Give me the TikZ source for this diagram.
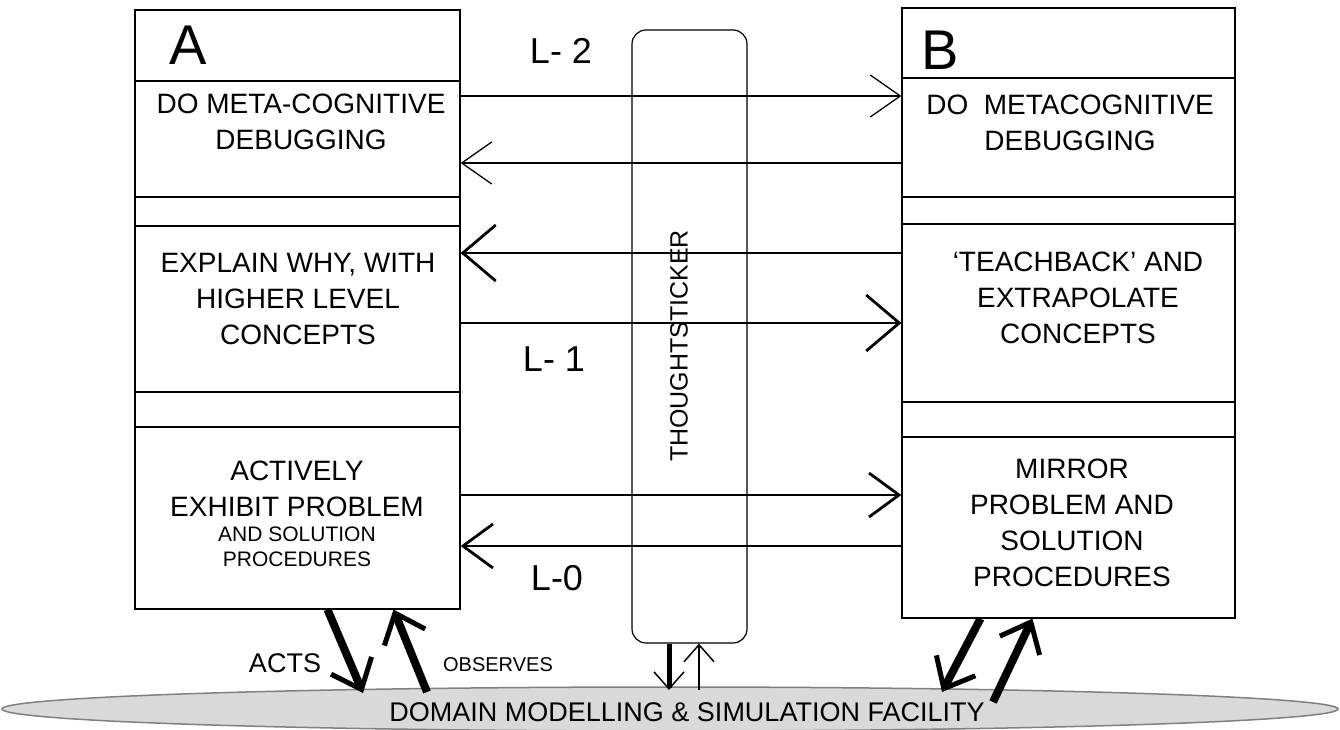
\documentclass[tikz,border=0pt]{standalone}
\usepackage{fontspec}
\setmainfont{Liberation Sans}
\usetikzlibrary{positioning,arrows.meta,calc,shapes.geometric}

\begin{document}
\begin{tikzpicture}[
  x=1pt, y=-1pt,
  col/.style={draw, line width=1.2pt, inner sep=0pt},
  divider/.style={line width=1.2pt},
  txt/.style={align=center, inner sep=0pt, font=\fontsize{28}{36}\selectfont},
  smalltxt/.style={align=center, inner sep=0pt, font=\fontsize{21}{25}\selectfont},
  letter/.style={inner sep=0pt, font=\fontsize{56}{60}\selectfont},
  lvl/.style={inner sep=0pt, font=\fontsize{36}{40}\selectfont},
  lvltwo/.style={line width=1.3pt, -{Straight Barb[length=30pt,width=42pt]}},
  lvlone/.style={line width=2.8pt, -{Straight Barb[length=33pt,width=56pt]}},
  lvlzero/.style={line width=2.8pt, -{Straight Barb[length=30pt,width=44pt]}},
  heavyarrow/.style={line width=8pt, -{Straight Barb[length=26pt,width=44pt,line width=5pt]}},
  tsdown/.style={line width=5pt, -{Straight Barb[length=17pt,width=30pt,line width=1.5pt]}},
  tsup/.style={line width=2pt, -{Straight Barb[length=17pt,width=30pt,line width=1.5pt]}},
]
\useasboundingbox (0,0) rectangle (1340,730);

% ---- domain facility (bottom ellipse) ----
\node[ellipse, draw=black!50, line width=1.5pt, fill=black!15, inner sep=0pt,
      minimum width=1336pt, minimum height=44pt] (domain) at (670,709) {};
\node[inner sep=0pt, font=\fontsize{27}{30}\selectfont] (domtext) at (687,712)
  {DOMAIN MODELLING \& SIMULATION FACILITY};

% ---- participant A ----
\node[col, minimum width=325pt, minimum height=599pt] (colA) at (297.5,309.5) {};
\foreach \yy in {81,197,226,392,427}
  \draw[divider] (colA.west |- 0,\yy) -- (colA.east |- 0,\yy);
\node[letter] (letA) at (188,45) {A};
\node[txt] (metaA) at (301,122) {DO META-COGNITIVE\\DEBUGGING};
\node[txt] (explainA) at (298,299) {EXPLAIN WHY, WITH\\HIGHER LEVEL\\CONCEPTS};
\node[txt] (exhibitA) at (297,489) {ACTIVELY\\EXHIBIT PROBLEM};
\node[smalltxt] (exhibitSubA) at (297,547) {AND SOLUTION\\PROCEDURES};

% ---- participant B ----
\node[col, minimum width=333pt, minimum height=610pt] (colB) at (1068.5,313) {};
\foreach \yy in {78,197,224,402,437}
  \draw[divider] (colB.west |- 0,\yy) -- (colB.east |- 0,\yy);
\node[letter] (letB) at (940,50) {B};
\node[txt] (metaB) at (1070,123) {DO\ \ METACOGNITIVE\\DEBUGGING};
\node[txt] (teachB) at (1078,298) {‘TEACHBACK’ AND\\EXTRAPOLATE\\CONCEPTS};
\node[txt] (mirrorB) at (1072,523) {MIRROR\\PROBLEM AND\\SOLUTION\\PROCEDURES};

% ---- thoughtsticker ----
\node[draw, rounded corners=14pt, line width=1.2pt, inner sep=0pt,
      minimum width=115pt, minimum height=613pt] (tstick) at (689.5,336.5) {};
\node[rotate=90, inner sep=0pt, font=\fontsize{25}{25}\selectfont] (tlabel)
  at (679,346) {THOUGHTSTICKER};

% ---- conversation levels ----
\draw[lvltwo] (colA.east |- 0,96)  -- (colB.west |- 0,96);
\draw[lvltwo] (colB.west |- 0,163) -- (colA.east |- 0,163);
\draw[lvlone] (colB.west |- 0,253) -- (colA.east |- 0,253);
\draw[lvlone] (colA.east |- 0,323) -- (colB.west |- 0,323);
\draw[lvlzero] (colA.east |- 0,495) -- (colB.west |- 0,495);
\draw[lvlzero] (colB.west |- 0,546) -- (colA.east |- 0,546);

\node[lvl] (ltwo) at (561,51) {L- 2};
\node[lvl] (lone) at (554,359) {L- 1};
\node[lvl] (lzero) at (557,578) {L-0};

% ---- acts / observes ----
\coordinate (actsEnd) at (363,693);
\coordinate (obsStart) at (427,692);
\coordinate (mirrorEnd) at (942,692);
\coordinate (mirrorStart) at (993,702);
\draw[heavyarrow] ([xshift=30pt]colA.south) -- (actsEnd);
\draw[heavyarrow] (obsStart) -- ([xshift=96pt]colA.south);
\draw[heavyarrow] ([xshift=-88pt]colB.south) -- (mirrorEnd);
\draw[heavyarrow] (mirrorStart) -- ([xshift=-36pt]colB.south);

\coordinate (tsEnd) at (669,690);
\coordinate (tsStart) at (699,690);
\draw[tsdown] ([xshift=-20.5pt]tstick.south) -- (tsEnd);
\draw[tsup] (tsStart) -- ([xshift=9.5pt]tstick.south);

\node[inner sep=0pt, font=\fontsize{27}{30}\selectfont] (acts) at (285,663) {ACTS};
\node[inner sep=0pt, font=\fontsize{20}{24}\selectfont] (observes) at (498,665) {OBSERVES};
\end{tikzpicture}
\end{document}
